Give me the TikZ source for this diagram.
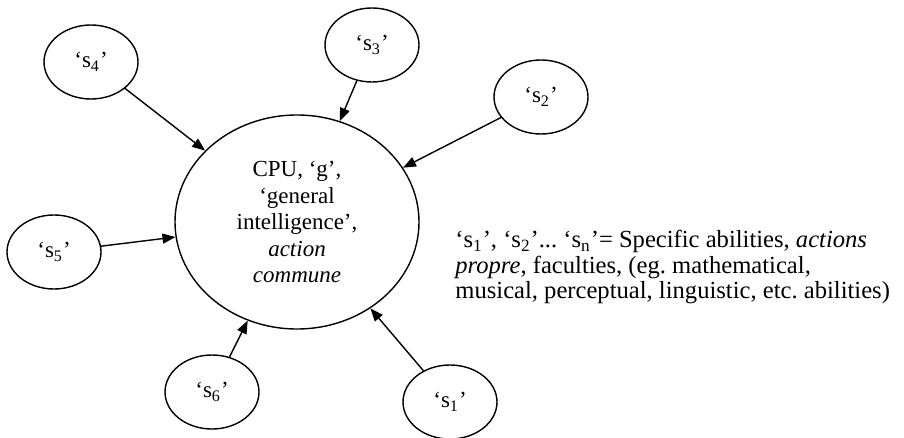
\documentclass[tikz,border=0pt]{standalone}
\usepackage{fontspec}
\setmainfont{Liberation Serif}
\usetikzlibrary{positioning,shapes,arrows.meta}
\frenchspacing

\begin{document}
\begin{tikzpicture}[x=0.5pt,y=-0.5pt,
    font=\fontsize{11.5}{13.25}\selectfont,
    ability/.style={ellipse,draw,line width=0.7pt,minimum width=47pt,minimum height=37pt,inner sep=0pt},
    link/.style={line width=0.7pt,-{Triangle[length=6.5pt,width=5pt]}}]
    \useasboundingbox (0,0) rectangle (904,438);

    \node[ellipse,draw,line width=0.7pt,minimum width=122pt,minimum height=107pt,inner sep=0pt,align=center] (cpu) at (297,222)
        {CPU, ‘g’,\\‘general\\intelligence’,\\\textit{action}\\\textit{commune}};  % g

    \node[ability] (s1) at (450,402) {‘s\textsubscript{1}’};
    \node[ability] (s2) at (541,97) {‘s\textsubscript{2}’};
    \node[ability] (s3) at (372,45) {‘s\textsubscript{3}’};
    \node[ability] (s4) at (91,62) {‘s\textsubscript{4}’};
    \node[ability] (s5) at (54,252) {‘s\textsubscript{5}’};
    \node[ability] (s6) at (212,392) {‘s\textsubscript{6}’};

    \draw[link] (s1) -- (cpu);
    \draw[link] (s2) -- (cpu);
    \draw[link] (s3) -- (cpu);
    \draw[link] (s4) -- (cpu);
    \draw[link] (s5) -- (cpu);
    \draw[link] (s6) -- (cpu);

    % legend
    \node[anchor=west,align=left,inner sep=0pt,font=\fontsize{12.3}{12.6}\selectfont] (key) at (455,267)
        {‘s\textsubscript{1}’, ‘s\textsubscript{2}’... ‘s\textsubscript{n}’= Specific abilities, \textit{actions}\\
         \textit{propre}, faculties, (eg. mathematical,\\
         musical, perceptual, linguistic, etc. abilities)};
\end{tikzpicture}
\end{document}
